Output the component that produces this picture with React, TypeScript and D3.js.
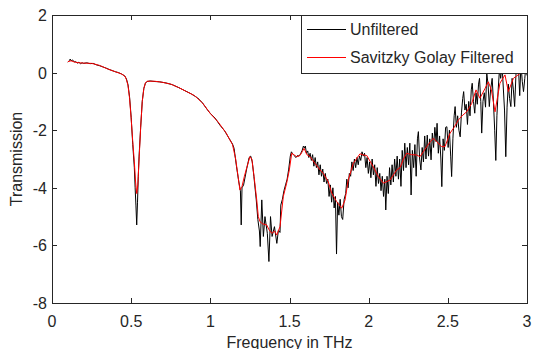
import React from "react";
import * as d3 from "d3";

const xTicks = [0, 0.5, 1, 1.5, 2, 2.5, 3];
const xTickLabels = ["0", "0.5", "1", "1.5", "2", "2.5", "3"];
const yTicks = [2, 0, -2, -4, -6, -8];
const yTickLabels = ["2", "0", "-2", "-4", "-6", "-8"];
const seriesNames = ["Unfiltered", "Savitzky Golay Filtered"];
const xLabel = "Frequency in THz";
const yLabel = "Transmission";

const unfiltered: [number, number][] = [
  [0.10,0.36],[0.11,0.42],[0.115,0.47],[0.12,0.41],[0.13,0.44],[0.14,0.37],[0.15,0.38],[0.16,0.33],[0.17,0.36],[0.18,0.31],
  [0.19,0.34],[0.20,0.32],[0.22,0.34],[0.24,0.31],[0.26,0.32],[0.28,0.27],[0.30,0.24],[0.32,0.2],[0.34,0.16],[0.36,0.11],
  [0.38,0.07],[0.40,0.03],[0.42,0.0],[0.44,-0.05],[0.46,-0.12],[0.47,-0.22],[0.48,-0.42],[0.49,-0.85],[0.50,-1.55],[0.51,-2.5],
  [0.52,-3.3],[0.525,-4.0],[0.53,-4.6],[0.535,-5.29],[0.54,-4.5],[0.545,-3.6],[0.55,-2.9],[0.56,-1.9],[0.57,-1.0],[0.58,-0.55],
  [0.59,-0.37],[0.60,-0.31],[0.62,-0.29],[0.65,-0.31],[0.68,-0.32],[0.72,-0.36],[0.76,-0.42],[0.80,-0.52],[0.84,-0.63],[0.88,-0.74],
  [0.92,-0.88],[0.95,-1.05],[0.98,-1.28],[1.00,-1.42],[1.03,-1.58],[1.06,-1.82],[1.09,-2.02],[1.12,-2.3],[1.14,-2.48],[1.15,-2.63],
  [1.165,-3.25],[1.18,-3.8],[1.19,-4.1],[1.195,-5.29],[1.20,-4.0],[1.21,-3.9],[1.23,-3.33],[1.245,-2.95],[1.255,-2.9],[1.265,-3.1],
  [1.275,-3.6],[1.29,-4.42],[1.30,-5.1],[1.31,-5.5],[1.315,-6.04],[1.325,-4.42],[1.335,-5.69],[1.345,-5.0],[1.36,-5.58],[1.37,-6.56],
  [1.38,-5.0],[1.39,-5.69],[1.405,-5.35],[1.42,-5.93],[1.43,-5.47],[1.44,-5.55],[1.445,-4.6],[1.455,-4.4],[1.465,-4.1],[1.475,-3.9],
  [1.485,-3.7],[1.495,-3.35],[1.505,-2.9],[1.512,-2.75],[1.52,-2.82],[1.53,-2.88],[1.54,-2.95],[1.55,-2.88],[1.56,-2.9],[1.57,-2.82],
  [1.58,-2.7],[1.588,-2.55],[1.595,-2.62],[1.60,-2.55],[1.607,-2.8],[1.615,-2.72],[1.622,-2.95],[1.63,-2.8],[1.638,-3.05],[1.646,-2.85],
  [1.654,-3.25],[1.662,-2.95],[1.67,-3.3],[1.678,-3.1],[1.686,-3.55],[1.694,-3.2],[1.702,-3.6],[1.71,-3.35],[1.718,-3.8],[1.726,-3.5],
  [1.734,-3.85],[1.742,-3.7],[1.75,-4.3],[1.758,-3.9],[1.766,-4.5],[1.774,-4.0],[1.782,-4.7],[1.79,-4.3],[1.797,-6.3],[1.804,-4.5],
  [1.812,-4.95],[1.82,-4.4],[1.828,-5.0],[1.836,-5.1],[1.845,-4.4],[1.855,-4.2],[1.862,-3.7],[1.870,-4.0],[1.878,-3.5],[1.886,-3.6],
  [1.894,-3.1],[1.902,-3.4],[1.910,-3.0],[1.918,-3.3],[1.926,-2.95],[1.934,-3.2],[1.942,-2.9],[1.950,-3.05],[1.958,-2.75],[1.966,-2.9],
  [1.974,-2.8],[1.982,-3.3],[1.990,-2.95],[1.998,-3.5],[2.006,-3.1],[2.014,-3.65],[2.022,-3.0],[2.030,-3.55],[2.038,-3.2],[2.046,-3.95],
  [2.054,-3.3],[2.062,-3.85],[2.070,-3.5],[2.078,-4.1],[2.086,-3.6],[2.094,-4.3],[2.102,-3.7],[2.108,-4.77],[2.116,-3.6],[2.124,-4.2],
  [2.132,-3.3],[2.140,-3.9],[2.148,-3.2],[2.156,-3.8],[2.164,-3.0],[2.172,-3.6],[2.180,-2.9],[2.188,-3.7],[2.196,-3.0],[2.204,-3.95],
  [2.212,-2.7],[2.220,-3.4],[2.228,-2.45],[2.236,-3.3],[2.244,-2.6],[2.252,-3.2],[2.260,-2.45],[2.268,-4.25],[2.276,-2.7],[2.284,-3.3],
  [2.292,-2.5],[2.300,-3.6],[2.308,-2.3],[2.314,-2.05],[2.322,-3.0],[2.330,-3.38],[2.338,-2.6],[2.346,-3.1],[2.354,-2.2],[2.362,-3.0],
  [2.370,-2.17],[2.378,-2.9],[2.386,-2.3],[2.394,-3.03],[2.402,-2.1],[2.410,-2.6],[2.418,-1.9],[2.426,-2.4],[2.432,-1.76],[2.440,-2.8],
  [2.448,-2.2],[2.456,-3.0],[2.462,-3.96],[2.470,-2.3],[2.478,-2.7],[2.486,-1.9],[2.494,-1.88],[2.502,-2.6],[2.510,-2.0],[2.518,-2.9],
  [2.524,-3.61],[2.532,-2.3],[2.540,-1.5],[2.546,-1.18],[2.554,-1.9],[2.562,-1.5],[2.570,-2.0],[2.578,-2.23],[2.586,-1.4],[2.594,-0.9],
  [2.600,-0.66],[2.608,-1.3],[2.616,-1.1],[2.624,-1.8],[2.632,-1.0],[2.640,-1.5],[2.648,-0.6],[2.654,-0.37],[2.662,-1.0],[2.670,-1.41],
  [2.678,-0.7],[2.686,-1.1],[2.694,-0.4],[2.700,-0.2],[2.708,-1.0],[2.714,-2.1],[2.722,-1.0],[2.730,-0.7],[2.738,-1.2],[2.746,-0.03],
  [2.754,-0.4],[2.762,-1.18],[2.770,-0.6],[2.780,-0.2],[2.788,-1.0],[2.796,-2.0],[2.803,-3.05],[2.810,-1.5],[2.818,-0.6],[2.826,0.1],
  [2.834,-0.2],[2.842,0.3],[2.850,-0.5],[2.858,-1.3],[2.866,-2.92],[2.874,-1.2],[2.882,-0.4],[2.890,-0.9],[2.898,-1.18],[2.906,-0.2],
  [2.914,-0.6],[2.922,-1.18],[2.930,-0.1],[2.938,0.6],[2.946,0.2],[2.954,-0.8],[2.962,0.3],[2.970,-0.3],[2.978,-0.66],[2.986,-0.2],
  [2.994,0.3],[3.000,-0.1]
];

const filtered: [number, number][] = [
  [0.10,0.38],[0.12,0.41],[0.14,0.37],[0.17,0.34],[0.20,0.33],[0.25,0.32],[0.30,0.25],[0.35,0.13],[0.40,0.03],[0.44,-0.05],
  [0.46,-0.12],[0.47,-0.24],[0.48,-0.45],[0.49,-0.9],[0.50,-1.6],[0.51,-2.4],[0.52,-3.1],[0.528,-3.8],[0.535,-4.2],[0.542,-3.9],
  [0.55,-3.0],[0.56,-1.9],[0.57,-1.0],[0.58,-0.55],[0.59,-0.36],[0.60,-0.3],[0.65,-0.3],[0.70,-0.34],[0.75,-0.4],[0.80,-0.52],
  [0.85,-0.66],[0.90,-0.8],[0.95,-1.05],[1.00,-1.42],[1.05,-1.72],[1.10,-2.1],[1.14,-2.5],[1.16,-3.0],[1.175,-3.6],[1.187,-4.08],
  [1.20,-3.95],[1.215,-3.6],[1.23,-3.3],[1.25,-2.92],[1.262,-3.0],[1.276,-3.6],[1.293,-4.42],[1.303,-5.0],[1.314,-5.18],[1.33,-5.25],
  [1.356,-5.29],[1.37,-5.45],[1.388,-5.58],[1.405,-5.5],[1.419,-5.64],[1.44,-5.35],[1.461,-4.3],[1.482,-3.84],[1.499,-3.38],[1.514,-2.8],
  [1.53,-2.86],[1.545,-2.92],[1.566,-2.88],[1.58,-2.75],[1.592,-2.63],[1.61,-2.85],[1.63,-2.92],[1.661,-3.15],[1.693,-3.38],[1.714,-3.5],
  [1.745,-3.79],[1.767,-4.19],[1.798,-4.48],[1.83,-4.71],[1.851,-4.42],[1.871,-3.73],[1.903,-3.15],[1.945,-2.82],[1.966,-2.86],[1.988,-2.88],
  [2.029,-3.27],[2.06,-3.6],[2.093,-3.84],[2.135,-3.73],[2.177,-3.38],[2.198,-3.3],[2.22,-3.0],[2.24,-2.8],[2.27,-2.85],[2.303,-2.86],
  [2.324,-2.92],[2.345,-2.75],[2.367,-2.57],[2.39,-2.4],[2.408,-2.28],[2.43,-2.4],[2.461,-2.57],[2.482,-2.57],[2.514,-2.1],[2.54,-1.9],
  [2.566,-1.65],[2.59,-1.5],[2.619,-1.36],[2.651,-1.07],[2.678,-0.6],[2.703,-0.89],[2.735,-0.55],[2.756,-0.32],[2.775,-0.6],[2.798,-1.36],
  [2.829,-0.37],[2.861,-0.08],[2.882,-0.66],[2.914,-0.2],[2.956,-0.03],[2.98,0.2],[3.0,0.0]
];

const W = 533;
const H = 349;
const left = 52;
const right = 527;
const top = 15;
const bottom = 303;
const FONT = "'Liberation Sans', Arial, Helvetica, sans-serif";
const AXIS = "#262626";

export default function App() {
  const x = d3.scaleLinear().domain([0, 3]).range([left, right]);
  const y = d3.scaleLinear().domain([-8, 2]).range([bottom, top]);
  const line = d3
    .line<[number, number]>()
    .x((d) => x(d[0]))
    .y((d) => y(d[1]));

  const tickLen = 5;
  const legX = 301;
  const legY = 15;
  const legW = 226;
  const legH = 58;

  return (
    <svg
      width={W}
      height={H}
      style={{ position: "absolute", left: 0, top: 0, background: "#fff" }}
      fontFamily={FONT}
    >
      <rect x={0} y={0} width={W} height={H} fill="#fff" />
      <path d={line(unfiltered) || ""} fill="none" stroke="#000" strokeWidth={1} />
      <path d={line(filtered) || ""} fill="none" stroke="#ff0000" strokeWidth={1} />
      {/* axes box */}
      <rect
        x={left + 0.5}
        y={top + 0.5}
        width={right - left}
        height={bottom - top}
        fill="none"
        stroke={AXIS}
        strokeWidth={1}
      />
      {xTicks.map((t, i) => (
        <g key={"xt" + i}>
          <line x1={Math.round(x(t)) + 0.5} x2={Math.round(x(t)) + 0.5} y1={bottom} y2={bottom - tickLen} stroke={AXIS} />
          <line x1={Math.round(x(t)) + 0.5} x2={Math.round(x(t)) + 0.5} y1={top} y2={top + tickLen} stroke={AXIS} />
          <text x={x(t)} y={bottom + 24} fontSize={16} textAnchor="middle" fill={AXIS}>
            {xTickLabels[i]}
          </text>
        </g>
      ))}
      {yTicks.map((t, i) => (
        <g key={"yt" + i}>
          <line x1={left} x2={left + tickLen} y1={Math.round(y(t)) + 0.5} y2={Math.round(y(t)) + 0.5} stroke={AXIS} />
          <line x1={right} x2={right - tickLen} y1={Math.round(y(t)) + 0.5} y2={Math.round(y(t)) + 0.5} stroke={AXIS} />
          <text x={left - 5} y={y(t) + 6} fontSize={16} textAnchor="end" fill={AXIS}>
            {yTickLabels[i]}
          </text>
        </g>
      ))}
      <text x={(left + right) / 2} y={348} fontSize={16} textAnchor="middle" fill={AXIS}>
        {xLabel}
      </text>
      <text
        transform={`translate(22, ${(top + bottom) / 2}) rotate(-90)`}
        fontSize={16}
        textAnchor="middle"
        fill={AXIS}
      >
        {yLabel}
      </text>
      {/* legend */}
      <rect x={legX + 0.5} y={legY + 0.5} width={legW} height={legH} fill="#fff" stroke={AXIS} strokeWidth={1} />
      <line x1={307} x2={346} y1={29.5} y2={29.5} stroke="#000" strokeWidth={1} />
      <text x={350} y={35} fontSize={16} fill={AXIS}>
        {seriesNames[0]}
      </text>
      <line x1={307} x2={346} y1={57.5} y2={57.5} stroke="#ff0000" strokeWidth={1} />
      <text x={350} y={63} fontSize={16} fill={AXIS}>
        {seriesNames[1]}
      </text>
    </svg>
  );
}
